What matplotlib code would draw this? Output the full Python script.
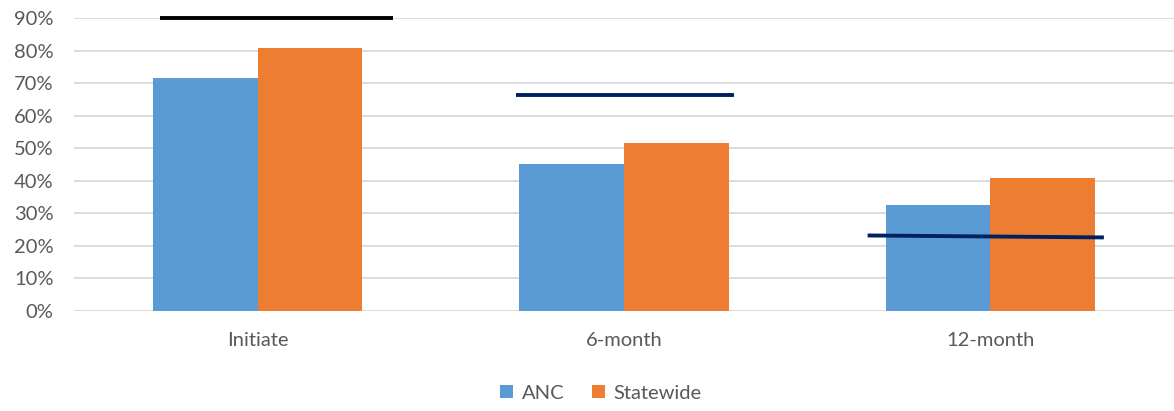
import numpy as np
import matplotlib.pyplot as plt
from matplotlib.ticker import PercentFormatter

# Chart data
categories = ["Initiate", "6-month", "12-month"]
anc = [71.5, 45.1, 32.5]
statewide = [80.7, 51.5, 40.9]

# Target lines (start/end value for each group)
target_start = [90.0, 66.3, 23.2]
target_end = [90.0, 66.3, 22.6]
target_colors = ["#000000", "#002060", "#002060"]

plt.rcParams['font.family'] = ['Lato', 'DejaVu Sans']

fig = plt.figure(figsize=(11.74, 4.11), dpi=100)
ax = fig.add_axes([74.5 / 1174, 1 - 311 / 411, 1099 / 1174, 293 / 411])

x = np.arange(len(categories))
w = 0.2855
ax.bar(x - w / 2, anc, w, color="#5B9BD5", label="ANC", zorder=2)
ax.bar(x + w / 2, statewide, w, color="#ED7D31", label="Statewide", zorder=2)

# target line extents relative to group centre
left_off = [-0.266, -0.296, -0.335]
right_off = [0.37, 0.30, 0.31]
for i in range(len(categories)):
    ax.plot([x[i] + left_off[i], x[i] + right_off[i]],
            [target_start[i], target_end[i]],
            color=target_colors[i], lw=2.8, solid_capstyle='butt',
            zorder=3, clip_on=False)

ax.set_xlim(-0.5, 2.5)
ax.set_ylim(0, 90)
ax.set_yticks(np.arange(0, 91, 10))
ax.yaxis.set_major_formatter(PercentFormatter(decimals=0))
ax.set_xticks(x)
ax.set_xticklabels(categories)

ax.grid(axis='y', color="#d9d9d9", lw=1.3, zorder=0)
ax.set_axisbelow(True)
for s in ax.spines.values():
    s.set_visible(False)
ax.tick_params(axis='both', length=0, labelsize=14.5, colors="#595959")
ax.tick_params(axis='y', pad=15)
ax.tick_params(axis='x', pad=15)

leg = fig.legend(loc='center', bbox_to_anchor=(601 / 1174, 1 - 393 / 411),
                 ncol=2, frameon=False, fontsize=14.5, handlelength=0.65,
                 handleheight=0.65, handletextpad=0.4, columnspacing=1.4)
for t in leg.get_texts():
    t.set_color("#595959")

fig.savefig("out.png", dpi=100)
